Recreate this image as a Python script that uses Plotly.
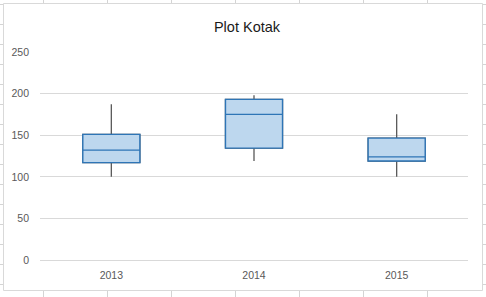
import plotly.graph_objects as go

years = ["2013", "2014", "2015"]
mins = [100, 119, 100]
q1s = [117, 134.5, 119]
medians = [132, 175, 124]
q3s = [151, 193, 146.5]
maxs = [187, 198, 175]
y_ticks = [0, 50, 100, 150, 200, 250]

W, H = 486, 297
L, R, T, B = 40, 18, 51, 36
pw, ph = W - L - R, H - T - B

def fx(p):
    return (p - L) / pw

def fy(p):
    return 1 - (p - T) / ph

fig = go.Figure()
# whiskers (dark gray)
fig.add_trace(go.Box(
    x=years, q1=q1s, median=medians, q3=q3s,
    lowerfence=mins, upperfence=maxs,
    fillcolor="rgba(0,0,0,0)", line=dict(color="#595959", width=1.3),
    whiskerwidth=0, boxpoints=False, hoverinfo="skip", showlegend=False,
))
# box body (blue)
fig.add_trace(go.Box(
    x=years, q1=q1s, median=medians, q3=q3s,
    lowerfence=q1s, upperfence=q3s,
    fillcolor="#BDD7EE", line=dict(color="#2E75B6", width=1.4),
    whiskerwidth=0, boxpoints=False, showlegend=False,
))

shapes = []
grid_col = "#D4D4D4"
for xv in [43, 107, 171, 235, 299, 363, 427]:
    shapes.append(dict(type="line", xref="paper", yref="paper",
                       x0=fx(xv + 0.5), x1=fx(xv + 0.5), y0=fy(0), y1=fy(H),
                       line=dict(color=grid_col, width=1), layer="below"))
for yv in range(4, 297, 20):
    shapes.append(dict(type="line", xref="paper", yref="paper",
                       x0=fx(0), x1=fx(W), y0=fy(yv + 0.5), y1=fy(yv + 0.5),
                       line=dict(color=grid_col, width=1), layer="below"))
shapes.append(dict(type="rect", xref="paper", yref="paper",
                   x0=fx(3.5), x1=fx(482.5), y0=fy(3.5), y1=fy(290.5),
                   fillcolor="white", line=dict(color="#D9D9D9", width=1),
                   layer="below"))

fig.update_layout(
    width=W, height=H,
    margin=dict(l=L, r=R, t=T, b=B),
    paper_bgcolor="white", plot_bgcolor="rgba(0,0,0,0)",
    boxmode="overlay", boxgap=0.6, boxgroupgap=0,
    title=dict(text="Plot Kotak", x=247 / W, xref="container", xanchor="center",
               y=1 - 27 / H, yref="container", yanchor="middle",
               font=dict(family="Liberation Sans", size=14.5, color="#1A1A1A")),
    font=dict(family="Liberation Sans", size=10.5, color="#595959"),
    shapes=shapes,
)
fig.update_yaxes(range=[-1, 251], tickvals=y_ticks, showgrid=True,
                 gridcolor="#D9D9D9", gridwidth=1, zeroline=True,
                 zerolinecolor="#D9D9D9", zerolinewidth=1,
                 showline=False, ticks="", ticklabelstandoff=10)
fig.update_xaxes(showgrid=False, zeroline=False, showline=False, ticks="",
                 ticklabelstandoff=6)

fig.write_html("out.html")
